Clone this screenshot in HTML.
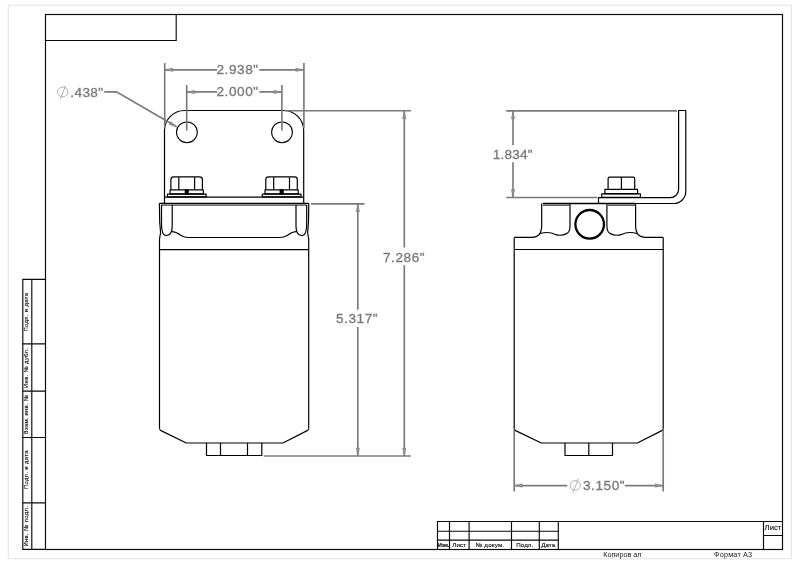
<!DOCTYPE html>
<html lang="ru">
<head>
<meta charset="utf-8">
<title>Drawing</title>
<style>
html,body{margin:0;padding:0;background:#fff;}
body{width:800px;height:565px;overflow:hidden;}
svg{display:block;filter:grayscale(1);}
.g{stroke:#000;fill:none;stroke-width:1.2;stroke-linecap:butt;stroke-linejoin:round;}
.f{stroke:#0a0a0a;fill:none;stroke-width:1.15;}
.d{stroke:#7a7a7a;fill:none;stroke-width:1.65;}
.dt{font-family:"Liberation Sans",sans-serif;font-size:13.6px;fill:#7a7a7a;stroke:#787878;stroke-width:.32;letter-spacing:.55px;}
.a{fill:#909090;stroke:#7c7c7c;stroke-width:.4;}
.s{font-family:"Liberation Sans",sans-serif;font-size:5.9px;fill:#111;stroke:#111;stroke-width:.15;letter-spacing:.34px;}
.t{font-family:"Liberation Sans",sans-serif;font-size:6.2px;fill:#111;stroke:#111;stroke-width:.15;letter-spacing:.1px;}
.b{font-family:"Liberation Sans",sans-serif;font-size:7.3px;fill:#222;letter-spacing:.08px;}
</style>
</head>
<body>
<svg width="800" height="565" viewBox="0 0 800 565">
<rect x="0" y="0" width="800" height="565" fill="#fff"/>
<!-- paper edge -->
<rect x="8.300" y="5.200" width="783.100" height="553.600" fill="none" stroke="#e2e2e2" stroke-width="1"/>

<!-- frame -->
<g class="f" id="frame">
<rect x="45.5" y="14.5" width="737" height="535"/>
<path d="M45.5 40.5H176.2V14.5"/>
</g>

<!-- left stamp -->
<g class="f" id="stamp">
<path d="M45.5 279.300H22.800V549.400H45.5"/>
<path d="M31.800 279.300V549.400"/>
<path d="M22.800 343.800H45.5M22.800 391.100H45.5M22.800 437.500H45.5M22.800 502.800H45.5"/>
</g>
<g class="s" id="stamptext">
<text transform="translate(28.450 312.100) rotate(-90)" text-anchor="middle">Подп. и дата</text>
<text transform="translate(28.450 367.900) rotate(-90)" text-anchor="middle" style="letter-spacing:.3px">Инв. № дубл.</text>
<text transform="translate(28.450 414.500) rotate(-90)" text-anchor="middle" style="letter-spacing:.24px">Взам. инв. №</text>
<text transform="translate(28.450 469.600) rotate(-90)" text-anchor="middle">Подп. и дата</text>
<text transform="translate(28.450 526.200) rotate(-90)" text-anchor="middle">Инв. № подл.</text>
</g>

<!-- title block -->
<g class="f" id="title">
<path d="M437.5 549.5V521.5H782.5"/>
<path d="M437.5 531.200H558.5M437.5 540.100H558.5"/>
<path d="M449.5 521.5V549.5M469.100 521.5V549.5M511.5 521.5V549.5M539.300 521.5V549.5M558.300 521.5V549.5"/>
<path d="M763.5 521.5V549.5M763.5 535.5H782.5"/>
</g>
<g class="t" id="titletext">
<text x="437.900" y="547.100" font-weight="bold" font-size="5.3" style="letter-spacing:-.15px">Изм.</text>
<text x="459.300" y="547.100" text-anchor="middle">Лист</text>
<text x="490" y="547.100" text-anchor="middle" style="letter-spacing:.2px">№ докум.</text>
<text x="524.800" y="547.100" text-anchor="middle">Подл.</text>
<text x="548.200" y="547.100" text-anchor="middle">Дата</text>
<text x="773" y="529.800" text-anchor="middle" font-size="7.6">Лист</text>
</g>
<g class="b">
<text x="603.200" y="556.500" style="letter-spacing:-.03px">Копиров ал</text>
<text x="714" y="556.500" style="letter-spacing:.16px">Формат А3</text>
</g>

<!-- LEFT VIEW geometry -->
<g class="g" id="left">
<!-- bracket plate -->
<path d="M164.5 203.3V130.5A20 20 0 0 1 184.5 110.5H283.7A20 20 0 0 1 303.7 130.5V203.3"/>
<circle cx="186.9" cy="132.3" r="10.4" stroke-width="1.050"/>
<circle cx="282" cy="132.3" r="10.4" stroke-width="1.050"/>
<!-- bracket foot -->
<path d="M164.5 197.1H303.7"/>
<!-- left bolt -->
<path d="M170.9 189.8V179.6Q170.9 176.9 173.6 176.9H199.7Q202.4 176.9 202.4 179.6V189.8"/>
<path d="M178.8 177.2V189.8M194.6 177.2V189.8"/>
<path d="M170.1 189.8H203.3V193.9H170.1Z"/>
<rect x="185.3" y="189.8" width="2.9" height="4.1" fill="#000"/>
<path d="M167.4 194.1H206.1V196.8H167.4Z"/>
<!-- right bolt -->
<path d="M265.8 189.8V179.6Q265.8 176.9 268.5 176.9H294.6Q297.3 176.9 297.3 179.6V189.8"/>
<path d="M273.7 177.2V189.8M289.5 177.2V189.8"/>
<path d="M265 189.8H298.2V193.9H265Z"/>
<rect x="280.2" y="189.8" width="2.9" height="4.1" fill="#000"/>
<path d="M262.3 194.1H301V196.8H262.3Z"/>
<!-- filter head -->
<path d="M159.4 203.300H308.8" stroke-width="1.200"/>
<path d="M161.4 205.050H306.8" stroke-width="1"/>
<path d="M159.4 203.3L159.7 222L160.6 232.5L159.5 239V428.5"/>
<path d="M161.500 204.900V224Q161.700 235.600 165.800 235.600Q172.200 235.600 172.200 226.500V204.900"/>
<path d="M171.900 231.700C175.200 231.700 178.200 233.500 180.700 235.200C183.200 236.800 185.200 237.500 188.700 237.500H279.500C283 237.500 285 236.800 287.500 235.200C290 233.500 293 231.700 296.300 231.700"/>
<path d="M308.8 203.3L308.5 222L307.6 232.5L308.7 239V428.5"/>
<path d="M306.700 204.900V224Q306.500 235.600 302.400 235.600Q296 235.600 296 226.500V204.900"/>
<!-- body -->
<path d="M159.5 249.7H308.7"/>
<path d="M159.5 428.5Q159.6 430 161 430.6L186.3 443H282.9L307.2 430.6Q308.6 430 308.7 428.500"/>
<!-- bottom nut -->
<path d="M206.500 443V455.5H261.8V443M220.5 443V455.5M247.5 443V455.5"/>
</g>

<!-- RIGHT VIEW geometry -->
<g class="g" id="right">
<!-- L bracket -->
<path d="M678.6 110.500H685.8V191.500A12 12 0 0 1 673.8 203.500H598.500V197.700H670.2A8.400 8.400 0 0 0 678.600 189.300Z"/>
<!-- bolt -->
<path d="M608.100 189.400V178.500Q608.100 177.100 609.500 177.100H633.300Q634.700 177.100 634.700 178.500V189.400"/>
<path d="M621.400 177.100V189.400"/>
<path d="M604.900 189.400H637.600V193.700H604.900Z"/>
<path d="M601.800 193.800H640.400V197.400H601.800Z"/>
<!-- head top -->
<path d="M542.700 203.600H635.600" stroke-width="1.5"/>
<path d="M543 205.200H569.500M608 205.200H635" stroke-width=".9"/>
<!-- left boss -->
<path d="M541.700 203.600V225.500Q541.700 237.400 531.500 237.400H514.200"/>
<path d="M570 203.600V226Q570 232.300 566.500 233.600Q561.500 236.200 556 234.700Q548 230.800 539.700 233.800"/>
<!-- right boss -->
<path d="M635.600 203.600V225.500Q635.600 237.400 645.800 237.400H663.200"/>
<path d="M606.900 203.600V226Q606.900 232.300 610.400 233.600Q615.400 236.200 620.900 234.700Q628.900 230.800 637.600 233.800"/>
<!-- port -->
<circle cx="589.700" cy="224.300" r="14.300" stroke-width="2.300"/>
<!-- body -->
<path d="M514.200 237.400V428.700M663.200 237.400V428.700"/>
<path d="M514.200 249.500H663.200"/>
<path d="M514.200 428.700Q514.300 430 515.600 430.600L541.300 443H637.400L661.800 430.600Q663.100 430 663.200 428.700"/>
<path d="M565 443V455.500H612.500V443M588.800 443V455.500"/>
</g>

<!-- dims -->
<g class="d" id="dims">
<path d="M164.700 63V128.300M303.900 63V128.300"/>
<path d="M164.700 69.800H217.200M259.300 69.800H303.900"/>
<path d="M186.700 85V130.500M281.900 85V130.500"/>
<path d="M186.700 91.900H217.200M259.300 91.900H281.900"/>
<path d="M104.300 91.800H116.500L176.600 126.800"/>
<!-- 7.286 -->
<path d="M284.700 110.700H411M263.700 456H411"/>
<path d="M404.300 110.700V247.600M404.300 265.200V456"/>
<!-- 5.317 -->
<path d="M311 203.800H364.500"/>
<path d="M357.800 203.800V309.700M357.800 327V456"/>
<!-- 1.834 -->
<path d="M506.300 110.800H677M506.300 197.500H597.300"/>
<path d="M513 110.800V145.200M513 162.200V197.500"/>
<!-- 3.150 -->
<path d="M514.200 430V491.500M663.200 430V491.500"/>
<path d="M514.200 485.600H567.200M624.800 485.600H663.200"/>
</g>
<!-- arrowheads -->
<g class="a" id="arrows">
<path d="M164.7 69.8l8.0 -1.75v3.5z"/>
<path d="M303.9 69.8l-8.0 -1.75v3.5z"/>
<path d="M186.7 91.9l8.0 -1.75v3.5z"/>
<path d="M281.9 91.9l-8.0 -1.75v3.5z"/>
<path d="M176.9 127l-7.8 -2.5 1.75 -3.05z"/>
<path d="M404.3 110.7l-1.75 8.0h3.5z"/>
<path d="M404.3 456l-1.75 -8.0h3.5z"/>
<path d="M357.8 203.8l-1.75 8.0h3.5z"/>
<path d="M357.8 456l-1.75 -8.0h3.5z"/>
<path d="M513 110.8l-1.75 8.0h3.5z"/>
<path d="M513 197.5l-1.75 -8.0h3.5z"/>
<path d="M514.2 485.6l8.0 -1.75v3.5z"/>
<path d="M663.2 485.6l-8.0 -1.75v3.5z"/>
</g>
<!-- diameter symbols -->
<g fill="none" stroke="#a8a8a8" stroke-width=".9" id="dia">
<ellipse cx="62.700" cy="91.900" rx="5.200" ry="4.900"/><path d="M60.300 98.900L65.600 85.600"/>
<ellipse cx="575.250" cy="485.400" rx="5.100" ry="4.800"/><path d="M572.800 492.600L578.500 478.700"/>
</g>
<g class="dt" id="dimtext">
<text x="216.500" y="74.400">2.938"</text>
<text x="216.500" y="96.400">2.000"</text>
<text x="70.200" y="97.400" style="letter-spacing:.43px">.438"</text>
<text x="383" y="261.600">7.286"</text>
<text x="336" y="323.200">5.317"</text>
<text x="492.700" y="159.200" style="letter-spacing:.23px">1.834"</text>
<text x="583" y="490.300">3.150"</text>
</g>
</svg>
</body>
</html>
